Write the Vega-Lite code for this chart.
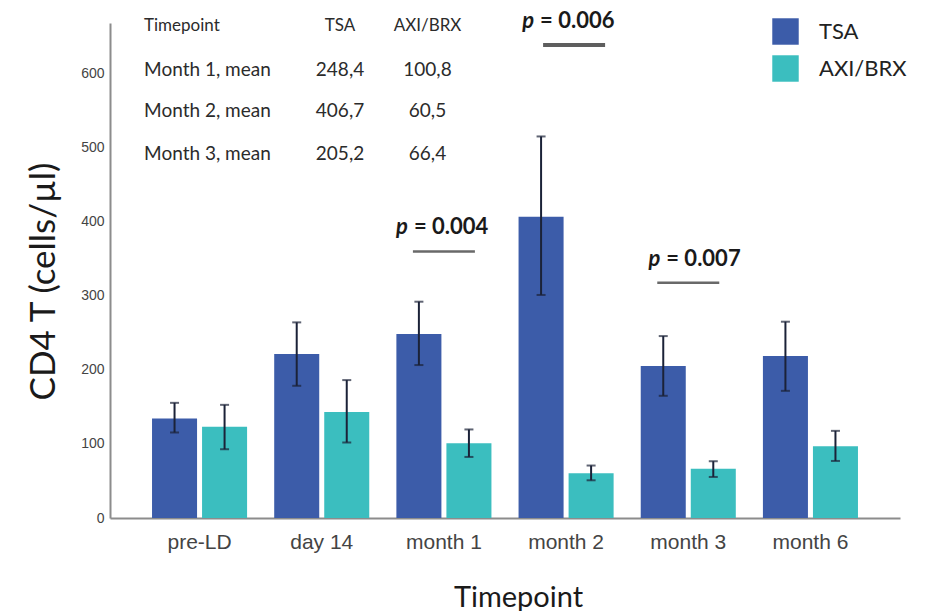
{
  "$schema": "https://vega.github.io/schema/vega-lite/v6.json",
  "width": 790,
  "height": 495,
  "autosize": "none",
  "padding": {"left": 110, "top": 23, "right": 30, "bottom": 93},
  "background": "white",
  "config": {"view": {"stroke": null}, "font": "Lato"},
  "datasets": {
    "cd4": [
      {"timepoint": "pre-LD", "arm": "TSA", "mean": 134.3, "lo": 115.4, "hi": 155.4},
      {"timepoint": "pre-LD", "arm": "AXI/BRX", "mean": 123.0, "lo": 92.8, "hi": 152.7},
      {"timepoint": "day 14", "arm": "TSA", "mean": 221.2, "lo": 178.4, "hi": 264.0},
      {"timepoint": "day 14", "arm": "AXI/BRX", "mean": 143.2, "lo": 101.9, "hi": 186.1},
      {"timepoint": "month 1", "arm": "TSA", "mean": 248.4, "lo": 206.4, "hi": 291.9},
      {"timepoint": "month 1", "arm": "AXI/BRX", "mean": 100.8, "lo": 82.4, "hi": 119.5},
      {"timepoint": "month 2", "arm": "TSA", "mean": 406.7, "lo": 301.0, "hi": 514.9},
      {"timepoint": "month 2", "arm": "AXI/BRX", "mean": 60.5, "lo": 50.9, "hi": 70.8},
      {"timepoint": "month 3", "arm": "TSA", "mean": 205.2, "lo": 164.9, "hi": 245.5},
      {"timepoint": "month 3", "arm": "AXI/BRX", "mean": 66.4, "lo": 55.4, "hi": 76.6},
      {"timepoint": "month 6", "arm": "TSA", "mean": 218.5, "lo": 171.6, "hi": 264.9},
      {"timepoint": "month 6", "arm": "AXI/BRX", "mean": 96.9, "lo": 77.0, "hi": 117.6}
    ],
    "pvals": [
      {"timepoint": "month 1", "p": "= 0.004"},
      {"timepoint": "month 2", "p": "= 0.006"},
      {"timepoint": "month 3", "p": "= 0.007"}
    ],
    "summary": [
      {"row": "Timepoint", "tsa": "TSA", "axi": "AXI/BRX"},
      {"row": "Month 1, mean", "tsa": "248,4", "axi": "100,8"},
      {"row": "Month 2, mean", "tsa": "406,7", "axi": "60,5"},
      {"row": "Month 3, mean", "tsa": "205,2", "axi": "66,4"}
    ]
  },
  "layer": [
    {
      "data": {"name": "cd4"},
      "mark": {"type": "bar"},
      "encoding": {
        "x": {
          "field": "timepoint",
          "type": "nominal",
          "scale": {
            "domain": ["pre-LD", "day 14", "month 1", "month 2", "month 3", "month 6"],
            "paddingInner": 0.222,
            "paddingOuter": 0.344
          },
          "title": "Timepoint",
          "axis": {
            "ticks": false,
            "grid": false,
            "domainColor": "#8c8c8c",
            "domainWidth": 2,
            "labelAngle": 0,
            "labelFont": "Liberation Sans",
            "labelFontSize": 21,
            "labelColor": "#444444",
            "labelPadding": 13,
            "titleFont": "Lato",
            "titleFontSize": 29,
            "titleFontWeight": "normal",
            "titleColor": "#1a1a1a",
            "titleX": 408,
            "titleY": 88,
            "titleAlign": "center",
            "titleBaseline": "alphabetic"
          }
        },
        "xOffset": {
          "field": "arm",
          "type": "nominal",
          "sort": ["TSA", "AXI/BRX"],
          "scale": {"paddingInner": 0.1, "paddingOuter": 0}
        },
        "y": {
          "field": "mean",
          "type": "quantitative",
          "scale": {"domain": [0, 668], "nice": false},
          "title": "CD4 T (cells/µl)",
          "axis": {
            "values": [0, 100, 200, 300, 400, 500, 600],
            "ticks": false,
            "grid": false,
            "domainColor": "#8c8c8c",
            "domainWidth": 2,
            "labelFont": "Liberation Sans",
            "labelFontSize": 14,
            "labelColor": "#444444",
            "labelPadding": 6,
            "titleFont": "Lato",
            "titleFontSize": 35,
            "titleFontWeight": "normal",
            "titleColor": "#1a1a1a",
            "titleAngle": -90,
            "titleX": -56,
            "titleY": 258,
            "titleAlign": "center",
            "titleBaseline": "alphabetic"
          }
        },
        "color": {
          "field": "arm",
          "type": "nominal",
          "scale": {"domain": ["TSA", "AXI/BRX"], "range": ["#3C5CA9", "#3BBEBF"]},
          "legend": {
            "orient": "none",
            "legendX": 662,
            "legendY": -5,
            "title": null,
            "padding": 0,
            "symbolType": "square",
            "symbolSize": 700,
            "symbolStrokeWidth": 0,
            "symbolOpacity": 1,
            "labelFont": "Lato",
            "labelFontSize": 22,
            "labelColor": "#222222",
            "labelOffset": 20,
            "rowPadding": 10
          }
        }
      }
    },
    {
      "data": {"name": "cd4"},
      "mark": {"type": "rule", "color": "#1b2238", "strokeWidth": 2},
      "encoding": {
        "x": {"field": "timepoint", "type": "nominal"},
        "xOffset": {"field": "arm", "type": "nominal", "sort": ["TSA", "AXI/BRX"]},
        "y": {"field": "lo", "type": "quantitative"},
        "y2": {"field": "hi"}
      }
    },
    {
      "data": {"name": "cd4"},
      "mark": {"type": "tick", "orient": "horizontal", "color": "#1b2238", "thickness": 2, "size": 9},
      "encoding": {
        "x": {"field": "timepoint", "type": "nominal"},
        "xOffset": {"field": "arm", "type": "nominal", "sort": ["TSA", "AXI/BRX"]},
        "y": {"field": "lo", "type": "quantitative"}
      }
    },
    {
      "data": {"name": "cd4"},
      "mark": {"type": "tick", "orient": "horizontal", "color": "#1b2238", "thickness": 2, "size": 9},
      "encoding": {
        "x": {"field": "timepoint", "type": "nominal"},
        "xOffset": {"field": "arm", "type": "nominal", "sort": ["TSA", "AXI/BRX"]},
        "y": {"field": "hi", "type": "quantitative"}
      }
    },
    {
      "data": {"name": "pvals"},
      "transform": [{"filter": "datum.timepoint === 'month 1'"}],
      "encoding": {
        "x": {"field": "timepoint", "type": "nominal"},
        "y": {"datum": 359.7, "type": "quantitative"}
      },
      "layer": [
        {"mark": {"type": "tick", "orient": "horizontal", "size": 62, "thickness": 2.5, "color": "#2a2a2a"}},
        {"mark": {"type": "text", "text": "p", "font": "Lato", "fontStyle": "italic", "fontWeight": "bold", "fontSize": 22, "color": "#1a1a1a", "align": "right", "baseline": "middle", "dx": -36, "dy": -24}},
        {"mark": {"type": "text", "font": "Lato", "fontWeight": "bold", "fontSize": 22, "color": "#1a1a1a", "align": "left", "baseline": "middle", "dx": -30, "dy": -24}, "encoding": {"text": {"field": "p"}}}
      ]
    },
    {
      "data": {"name": "pvals"},
      "transform": [{"filter": "datum.timepoint === 'month 2'"}],
      "encoding": {
        "x": {"field": "timepoint", "type": "nominal"},
        "y": {"datum": 638.4, "type": "quantitative"}
      },
      "layer": [
        {"mark": {"type": "tick", "orient": "horizontal", "size": 62, "thickness": 4, "color": "#1a1a1a", "xOffset": 8}},
        {"mark": {"type": "text", "text": "p", "font": "Lato", "fontStyle": "italic", "fontWeight": "bold", "fontSize": 22, "color": "#1a1a1a", "align": "right", "baseline": "middle", "dx": -32, "dy": -24}},
        {"mark": {"type": "text", "font": "Lato", "fontWeight": "bold", "fontSize": 22, "color": "#1a1a1a", "align": "left", "baseline": "middle", "dx": -26, "dy": -24}, "encoding": {"text": {"field": "p"}}}
      ]
    },
    {
      "data": {"name": "pvals"},
      "transform": [{"filter": "datum.timepoint === 'month 3'"}],
      "encoding": {
        "x": {"field": "timepoint", "type": "nominal"},
        "y": {"datum": 317.6, "type": "quantitative"}
      },
      "layer": [
        {"mark": {"type": "tick", "orient": "horizontal", "size": 62, "thickness": 2.5, "color": "#2a2a2a"}},
        {"mark": {"type": "text", "text": "p", "font": "Lato", "fontStyle": "italic", "fontWeight": "bold", "fontSize": 22, "color": "#1a1a1a", "align": "right", "baseline": "middle", "dx": -28, "dy": -24}},
        {"mark": {"type": "text", "font": "Lato", "fontWeight": "bold", "fontSize": 22, "color": "#1a1a1a", "align": "left", "baseline": "middle", "dx": -22, "dy": -24}, "encoding": {"text": {"field": "p"}}}
      ]
    },
    {
      "data": {"name": "summary"},
      "transform": [{"filter": "datum.row === 'Timepoint'"}],
      "encoding": {"y": {"datum": 663.5, "type": "quantitative"}},
      "layer": [
        {
          "mark": {"type": "text", "font": "Lato", "fontSize": 17, "color": "#2b2b2b", "align": "left", "baseline": "middle", "dx": -55.5},
          "encoding": {"x": {"datum": "pre-LD", "type": "nominal"}, "text": {"field": "row"}}
        },
        {
          "mark": {"type": "text", "font": "Lato", "fontSize": 17, "color": "#2b2b2b", "align": "center", "baseline": "middle", "dx": 18.3},
          "encoding": {"x": {"datum": "day 14", "type": "nominal"}, "text": {"field": "tsa"}}
        },
        {
          "mark": {"type": "text", "font": "Lato", "fontSize": 17, "color": "#2b2b2b", "align": "center", "baseline": "middle", "dx": -16.4},
          "encoding": {"x": {"datum": "month 1", "type": "nominal"}, "text": {"field": "axi"}}
        }
      ]
    },
    {
      "data": {"name": "summary"},
      "transform": [{"filter": "datum.row === 'Month 1, mean'"}],
      "encoding": {"y": {"datum": 605, "type": "quantitative"}},
      "layer": [
        {
          "mark": {"type": "text", "font": "Lato", "fontSize": 19, "color": "#2b2b2b", "align": "left", "baseline": "middle", "dx": -55.5},
          "encoding": {"x": {"datum": "pre-LD", "type": "nominal"}, "text": {"field": "row"}}
        },
        {
          "mark": {"type": "text", "font": "Lato", "fontSize": 19, "color": "#2b2b2b", "align": "center", "baseline": "middle", "dx": 18.3},
          "encoding": {"x": {"datum": "day 14", "type": "nominal"}, "text": {"field": "tsa"}}
        },
        {
          "mark": {"type": "text", "font": "Lato", "fontSize": 19, "color": "#2b2b2b", "align": "center", "baseline": "middle", "dx": -16.4},
          "encoding": {"x": {"datum": "month 1", "type": "nominal"}, "text": {"field": "axi"}}
        }
      ]
    },
    {
      "data": {"name": "summary"},
      "transform": [{"filter": "datum.row === 'Month 2, mean'"}],
      "encoding": {"y": {"datum": 548.6, "type": "quantitative"}},
      "layer": [
        {
          "mark": {"type": "text", "font": "Lato", "fontSize": 19, "color": "#2b2b2b", "align": "left", "baseline": "middle", "dx": -55.5},
          "encoding": {"x": {"datum": "pre-LD", "type": "nominal"}, "text": {"field": "row"}}
        },
        {
          "mark": {"type": "text", "font": "Lato", "fontSize": 19, "color": "#2b2b2b", "align": "center", "baseline": "middle", "dx": 18.3},
          "encoding": {"x": {"datum": "day 14", "type": "nominal"}, "text": {"field": "tsa"}}
        },
        {
          "mark": {"type": "text", "font": "Lato", "fontSize": 19, "color": "#2b2b2b", "align": "center", "baseline": "middle", "dx": -16.4},
          "encoding": {"x": {"datum": "month 1", "type": "nominal"}, "text": {"field": "axi"}}
        }
      ]
    },
    {
      "data": {"name": "summary"},
      "transform": [{"filter": "datum.row === 'Month 3, mean'"}],
      "encoding": {"y": {"datum": 491.5, "type": "quantitative"}},
      "layer": [
        {
          "mark": {"type": "text", "font": "Lato", "fontSize": 19, "color": "#2b2b2b", "align": "left", "baseline": "middle", "dx": -55.5},
          "encoding": {"x": {"datum": "pre-LD", "type": "nominal"}, "text": {"field": "row"}}
        },
        {
          "mark": {"type": "text", "font": "Lato", "fontSize": 19, "color": "#2b2b2b", "align": "center", "baseline": "middle", "dx": 18.3},
          "encoding": {"x": {"datum": "day 14", "type": "nominal"}, "text": {"field": "tsa"}}
        },
        {
          "mark": {"type": "text", "font": "Lato", "fontSize": 19, "color": "#2b2b2b", "align": "center", "baseline": "middle", "dx": -16.4},
          "encoding": {"x": {"datum": "month 1", "type": "nominal"}, "text": {"field": "axi"}}
        }
      ]
    }
  ]
}
